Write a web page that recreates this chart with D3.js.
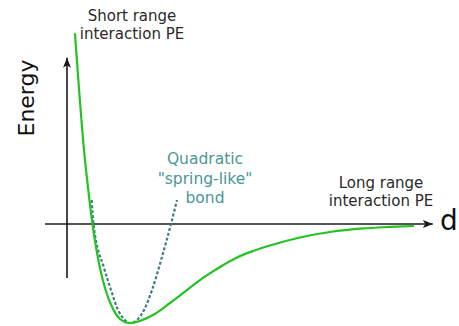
<!DOCTYPE html>
<html>
<head>
<meta charset="utf-8">
<script src="https://cdn.jsdelivr.net/npm/d3@7"></script>
<style>
html,body{margin:0;padding:0;background:#fff;}
svg{display:block;}
</style>
</head>
<body>
<svg id="chart" width="459" height="326"></svg>
<script>
// Separation d (equilibrium = 1) and energy (well depth = -1)
const potentialD = [0.129, 0.282, 0.347, 0.411, 0.532, 0.613, 0.742, 0.855, 1.0, 1.387, 1.661, 1.935, 2.194, 2.468, 2.742, 3.0, 3.274, 3.758, 4.242, 4.774, 5.21, 5.581];
const potentialE = [1.919, 0.697, 0.323, 0.0, -0.444, -0.646, -0.859, -0.960, -1.0, -0.919, -0.798, -0.667, -0.545, -0.434, -0.338, -0.273, -0.217, -0.136, -0.081, -0.045, -0.030, -0.020];
const springD = [0.398, 0.427, 0.597, 0.710, 0.823, 0.919, 1.032, 1.145, 1.242, 1.371, 1.532, 1.677, 1.774];
const springE = [0.242, 0.0, -0.444, -0.667, -0.869, -0.960, -1.0, -0.960, -0.869, -0.667, -0.333, 0.0, 0.242];
const axisD = [-0.355, 5.9];
const axisE = [-0.545, 1.68];
const labelShort = ["Short range", "interaction PE"];
const labelSpring = ["Quadratic", "\"spring-like\"", "bond"];
const labelLong = ["Long range", "interaction PE"];
const labelY = "Energy";
const labelX = "d";

const svg = d3.select("#chart");
const x = d3.scaleLinear().domain([0, 1]).range([67, 129]);
const y = d3.scaleLinear().domain([0, -1]).range([224, 323]);

const axisColor = "#1a1a1a";
const defs = svg.append("defs");
defs.append("marker").attr("id", "arrow")
  .attr("viewBox", "0 0 10 8").attr("refX", 10).attr("refY", 4)
  .attr("markerWidth", 10).attr("markerHeight", 8).attr("markerUnits", "userSpaceOnUse")
  .attr("orient", "auto")
  .append("path").attr("d", "M0,0 L10,4 L0,8 L2.5,4 Z").attr("fill", axisColor);

// horizontal axis
svg.append("line")
  .attr("x1", x(axisD[0])).attr("x2", x(axisD[1]))
  .attr("y1", y(0)).attr("y2", y(0))
  .attr("stroke", axisColor).attr("stroke-width", 1.6)
  .attr("marker-end", "url(#arrow)");
// vertical axis
svg.append("line")
  .attr("x1", x(0)).attr("x2", x(0))
  .attr("y1", y(axisE[0])).attr("y2", y(axisE[1]))
  .attr("stroke", axisColor).attr("stroke-width", 1.6)
  .attr("marker-end", "url(#arrow)");

const line = d3.line().x(d => x(d[0])).y(d => y(d[1])).curve(d3.curveMonotoneX);

svg.append("path")
  .attr("d", line(springD.map((d, i) => [d, springE[i]])))
  .attr("fill", "none").attr("stroke", "#3e7c88").attr("stroke-width", 2.2)
  .attr("stroke-dasharray", "3,2");

svg.append("path")
  .attr("d", line(potentialD.map((d, i) => [d, potentialE[i]])))
  .attr("fill", "none").attr("stroke", "#22c322").attr("stroke-width", 2.2)
  .attr("stroke-linecap", "round");

const font = "DejaVu Sans, Verdana, sans-serif";
function lines(arr, cx, y0, dy, color, size) {
  const t = svg.append("text").attr("text-anchor", "middle")
    .attr("font-family", font).attr("font-size", size).attr("fill", color);
  arr.forEach((s, i) => t.append("tspan").attr("x", cx).attr("y", y0 + i * dy).text(s));
}
lines(labelShort, 132, 21, 18, "#2a2a2a", 15);
lines(labelSpring, 205, 164, 19.5, "#4a9696", 15.5);
lines(labelLong, 381, 188, 18, "#2a2a2a", 15);

svg.append("text").attr("transform", "translate(34,98) rotate(-90)")
  .attr("text-anchor", "middle").attr("font-family", font).attr("font-size", 22)
  .attr("fill", "#111").text(labelY);
svg.append("text").attr("x", 440).attr("y", 230)
  .attr("font-family", font).attr("font-size", 28).attr("fill", "#111").text(labelX);
</script>
</body>
</html>
